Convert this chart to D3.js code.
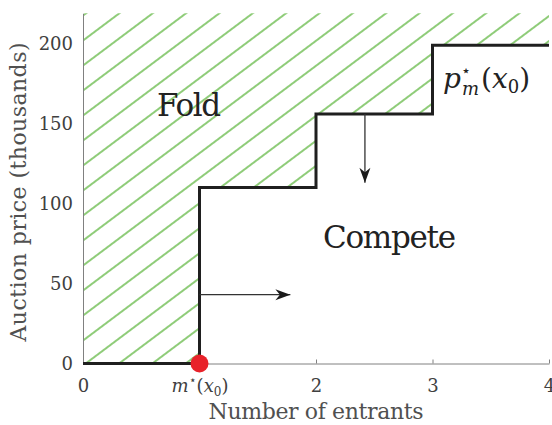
<!DOCTYPE html>
<html>
<head>
<meta charset="utf-8">
<script src="https://cdn.jsdelivr.net/npm/d3@7"></script>
<style>
  body { margin: 0; background: #fff; }
</style>
</head>
<body>
<div id="chart"></div>
<script>
// step function: price level for each entrant interval
const STEP_X = [0, 1, 2, 3, 4];
const STEP_PRICE = [0, 110, 156, 199, 199];
const M_STAR = 1;
const X_TICKS = [0, 1, 2, 3, 4];
const Y_TICKS = [0, 50, 100, 150, 200];
// arrows: [x1, y1, x2, y2] in data units
const ARROWS = [
    [1, 43, 1.78, 43],
    [2.42, 156, 2.42, 113]
];

const FONT = "DejaVu Serif, serif";
const WIDTH = 552;
const HEIGHT = 425;
const MARGIN = { top: 13.3, right: 3, bottom: 61.5, left: 83 };
const PLOT_W = WIDTH - MARGIN.left - MARGIN.right;
const PLOT_H = HEIGHT - MARGIN.top - MARGIN.bottom;
const Y_MAX = d3.max(STEP_PRICE) * 1.1;

const x = d3.scaleLinear().domain([0, 4]).range([0, PLOT_W]);
const y = d3.scaleLinear().domain([0, Y_MAX]).range([PLOT_H, 0]);

const svg = d3.select('#chart')
    .append('svg')
    .attr('width', WIDTH)
    .attr('height', HEIGHT)
    .attr('font-family', FONT);

const defs = svg.append('defs');

// green hatch
const hatch = defs.append('pattern')
    .attr('id', 'hatch')
    .attr('patternUnits', 'userSpaceOnUse')
    .attr('width', 20)
    .attr('height', 20)
    .attr('patternTransform', `translate(${MARGIN.left},40) rotate(-36.87) translate(0,-10)`);
hatch.append('line')
    .attr('x1', -1).attr('x2', 21)
    .attr('y1', 10).attr('y2', 10)
    .attr('stroke', '#52b030')
    .attr('stroke-width', 1.3);

defs.append('marker')
    .attr('id', 'head')
    .attr('markerUnits', 'userSpaceOnUse')
    .attr('viewBox', '-16 -6 17 12')
    .attr('refX', 0).attr('refY', 0)
    .attr('markerWidth', 17).attr('markerHeight', 12)
    .attr('orient', 'auto')
    .append('path')
    .attr('d', 'M0,0 L-15,-5.5 L-10.5,0 L-15,5.5 Z')
    .attr('fill', '#1a1a1a');

const g = svg.append('g')
    .attr('transform', `translate(${MARGIN.left}, ${MARGIN.top})`);

const points = STEP_X.map((d, i) => [d, STEP_PRICE[i]]);

// fold region above the step curve
const region = [[0, Y_MAX], ...points.flatMap((p, i) => i === 0 ? [p] : [[p[0], points[i - 1][1]], p]), [4, Y_MAX]];
g.append('path')
    .datum(region)
    .attr('d', d3.line().x(d => x(d[0])).y(d => y(d[1])))
    .attr('fill', 'url(#hatch)');

// axes
const xAxis = d3.axisBottom(x)
    .tickValues(X_TICKS)
    .tickSizeInner(-4)
    .tickSizeOuter(0)
    .tickFormat(() => '');
const xg = g.append('g')
    .attr('transform', `translate(0, ${PLOT_H})`)
    .call(xAxis)
    .attr('font-family', null);

const yAxis = d3.axisLeft(y)
    .tickValues(Y_TICKS)
    .tickSize(0)
    .tickPadding(10);
const yg = g.append('g').call(yAxis)
    .attr('font-family', null)
    .attr('font-size', 18);

[xg, yg].forEach(a => {
    a.select('.domain').attr('stroke', '#808080').attr('stroke-width', 1);
    a.selectAll('.tick line').attr('stroke', '#808080');
});
yg.selectAll('.tick text')
    .attr('fill', '#404040');

// x tick labels, the one at m* is math
xg.selectAll('.tick').each(function(d) {
    const t = d3.select(this).append('text')
        .attr('y', 28)
        .attr('text-anchor', 'middle')
        .attr('fill', '#404040')
        .attr('font-size', 18);
    if (d === M_STAR) {
        t.append('tspan').attr('font-style', 'italic').text('m');
        t.append('tspan').attr('font-size', 12).attr('dy', -8).text('⋆');
        t.append('tspan').attr('dy', 8).text('(');
        t.append('tspan').attr('font-style', 'italic').text('x');
        t.append('tspan').attr('font-size', 12).attr('dy', 4).text('0');
        t.append('tspan').attr('dy', -4).text(')');
    } else {
        t.text(d);
    }
});

// step curve
g.append('path')
    .datum(points)
    .attr('d', d3.line().x(d => x(d[0])).y(d => y(d[1])).curve(d3.curveStepAfter))
    .attr('fill', 'none')
    .attr('stroke', '#1f1f1f')
    .attr('stroke-width', 3);

// arrows
g.selectAll('.arrow')
    .data(ARROWS)
    .enter()
    .append('line')
    .attr('class', 'arrow')
    .attr('x1', d => x(d[0]))
    .attr('y1', d => y(d[1]))
    .attr('x2', d => x(d[2]))
    .attr('y2', d => y(d[3]))
    .attr('stroke', '#333')
    .attr('stroke-width', 1.3)
    .attr('marker-end', 'url(#head)');

// threshold marker
g.append('circle')
    .attr('cx', x(M_STAR))
    .attr('cy', y(0))
    .attr('r', 9)
    .attr('fill', '#e8222a');

// region labels
svg.append('text')
    .attr('x', 189).attr('y', 116)
    .attr('text-anchor', 'middle')
    .attr('font-size', 31)
    .attr('fill', '#222')
    .attr('textLength', 64)
    .text('Fold');

svg.append('text')
    .attr('x', 389.5).attr('y', 248)
    .attr('text-anchor', 'middle')
    .attr('font-size', 31)
    .attr('fill', '#222')
    .attr('textLength', 133)
    .text('Compete');

const pm = svg.append('text')
    .attr('x', 443).attr('y', 88)
    .attr('font-size', 28)
    .attr('fill', '#222');
pm.append('tspan').attr('font-style', 'italic').text('p');
pm.append('tspan').attr('font-size', 16).attr('dy', -12).text('⋆');
pm.append('tspan').attr('font-size', 18).attr('font-style', 'italic').attr('dx', -9).attr('dy', 19).text('m');
pm.append('tspan').attr('dy', -7).attr('dx', 2).text('(');
pm.append('tspan').attr('font-style', 'italic').text('x');
pm.append('tspan').attr('font-size', 18).attr('dy', 5).text('0');
pm.append('tspan').attr('dy', -5).text(')');

// axis titles
svg.append('text')
    .attr('x', MARGIN.left + x(2))
    .attr('y', 419)
    .attr('text-anchor', 'middle')
    .attr('font-size', 22)
    .attr('fill', '#505050')
    .attr('textLength', 215)
    .text('Number of entrants');

svg.append('text')
    .attr('transform', `translate(26, 192) rotate(-90)`)
    .attr('text-anchor', 'middle')
    .attr('font-size', 22)
    .attr('fill', '#505050')
    .attr('textLength', 299)
    .text('Auction price (thousands)');
</script>
</body>
</html>
